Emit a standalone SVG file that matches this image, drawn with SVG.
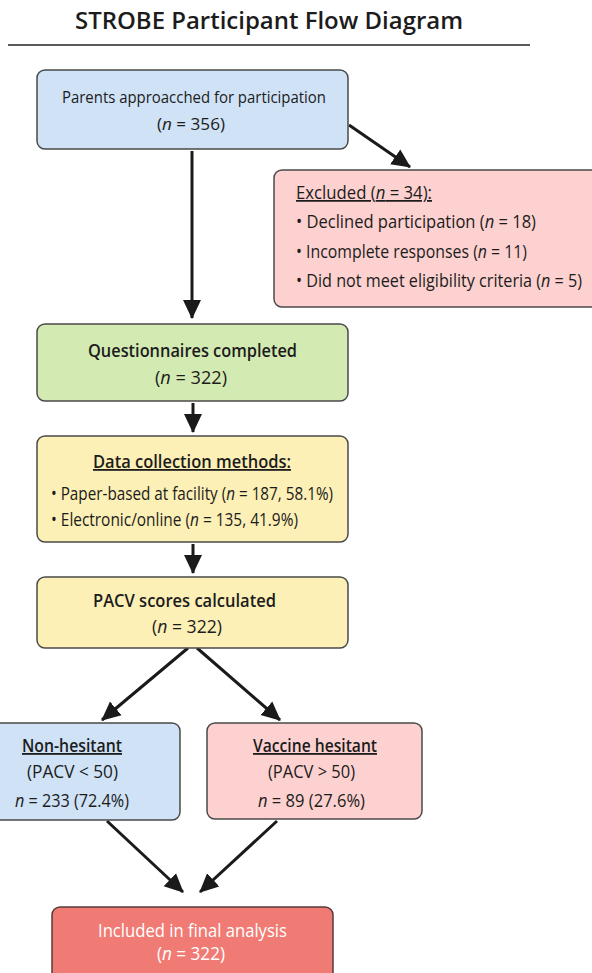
<svg xmlns="http://www.w3.org/2000/svg" width="592" height="973" viewBox="0 0 592 973">
<defs>
<style>
text{font-family:"Open Sans","Noto Sans","Liberation Sans",sans-serif;fill:#1c1c1c;}
.t{font-size:17px;font-weight:400;}
.s{font-size:18px;font-weight:600;}
.b{font-size:17.5px;font-weight:500;}
.w{fill:#ffffff;}
.u{text-decoration:underline;}
.i{font-style:italic;}
.box{stroke:#4a4a4a;stroke-width:1.5;}
.c{stroke:#1a1a1a;stroke-width:3;fill:none;}
</style>
<marker id="ah" markerUnits="userSpaceOnUse" viewBox="0 0 20 20" refX="18" refY="10" markerWidth="20" markerHeight="20" orient="auto">
<path d="M0,1 L19,10 L0,19 Z" fill="#1a1a1a"/>
</marker>
</defs>
<rect width="592" height="973" fill="#ffffff"/>
<g id="title">
<text x="269" y="29" text-anchor="middle" style="font-size:24px;font-weight:600" textLength="388" lengthAdjust="spacingAndGlyphs">STROBE Participant Flow Diagram</text>
<line x1="8" y1="45" x2="530" y2="45" stroke="#5a5a5a" stroke-width="2"/>
</g>
<g id="connectors">
<line class="c" x1="192" y1="151" x2="192" y2="318" marker-end="url(#ah)"/>
<line class="c" x1="349" y1="125" x2="410" y2="167" marker-end="url(#ah)"/>
<line class="c" x1="193" y1="403" x2="193" y2="432" marker-end="url(#ah)"/>
<line class="c" x1="193" y1="544" x2="193" y2="573" marker-end="url(#ah)"/>
<line class="c" x1="188" y1="648" x2="102" y2="720" marker-end="url(#ah)"/>
<line class="c" x1="197" y1="648" x2="280" y2="720" marker-end="url(#ah)"/>
<line class="c" x1="107" y1="821" x2="183" y2="892" marker-end="url(#ah)"/>
<line class="c" x1="277" y1="821" x2="200" y2="892" marker-end="url(#ah)"/>
</g>
<g id="parents">
<rect class="box" x="37" y="70" width="311" height="79" rx="8" fill="#cfe2f6"/>
<text class="t" x="62" y="103" textLength="264" lengthAdjust="spacingAndGlyphs">Parents approacched for participation</text>
<text class="t" x="157" y="130" textLength="68" lengthAdjust="spacingAndGlyphs">(<tspan class="i">n</tspan> = 356)</text>
</g>
<g id="excluded">
<rect class="box" x="274" y="170" width="330" height="137" rx="8" fill="#fdd1cf"/>
<text class="b u" x="296" y="199" textLength="136" lengthAdjust="spacingAndGlyphs">Excluded (<tspan class="i">n</tspan> = 34):</text>
<text class="b" x="296" y="228" textLength="240" lengthAdjust="spacingAndGlyphs">• Declined participation (<tspan class="i">n</tspan> = 18)</text>
<text class="b" x="296" y="258" textLength="231" lengthAdjust="spacingAndGlyphs">• Incomplete responses (<tspan class="i">n</tspan> = 11)</text>
<text class="b" x="296" y="287" textLength="286" lengthAdjust="spacingAndGlyphs">• Did not meet eligibility criteria (<tspan class="i">n</tspan> = 5)</text>
</g>
<g id="questionnaires">
<rect class="box" x="37" y="324" width="311" height="77" rx="8" fill="#d4eab3"/>
<text class="s" x="88" y="357" textLength="209" lengthAdjust="spacingAndGlyphs">Questionnaires completed</text>
<text class="t" x="155" y="384" style="font-size:18px" textLength="72" lengthAdjust="spacingAndGlyphs">(<tspan class="i">n</tspan> = 322)</text>
</g>
<g id="methods">
<rect class="box" x="37" y="436" width="311" height="106" rx="8" fill="#fcf0b6"/>
<text class="s u" x="93" y="468" textLength="198" lengthAdjust="spacingAndGlyphs">Data collection methods:</text>
<text class="b" x="51" y="500" textLength="282" lengthAdjust="spacingAndGlyphs">• Paper-based at facility (<tspan class="i">n</tspan> = 187, 58.1%)</text>
<text class="b" x="51" y="526" textLength="247" lengthAdjust="spacingAndGlyphs">• Electronic/online (<tspan class="i">n</tspan> = 135, 41.9%)</text>
</g>
<g id="pacv">
<rect class="box" x="37" y="577" width="311" height="71" rx="8" fill="#fcf0b6"/>
<text class="s" x="93" y="607" textLength="183" lengthAdjust="spacingAndGlyphs">PACV scores calculated</text>
<text class="t" x="152" y="633" style="font-size:18px" textLength="70" lengthAdjust="spacingAndGlyphs">(<tspan class="i">n</tspan> = 322)</text>
</g>
<g id="nonhesitant">
<rect class="box" x="-8" y="723" width="188" height="97" rx="8" fill="#cfe2f6"/>
<text class="s u" x="22" y="752" textLength="100" lengthAdjust="spacingAndGlyphs">Non-hesitant</text>
<text class="s" x="27" y="778" style="font-weight:500" textLength="91" lengthAdjust="spacingAndGlyphs">(PACV &lt; 50)</text>
<text class="s" x="15" y="807" style="font-weight:500" textLength="114" lengthAdjust="spacingAndGlyphs"><tspan class="i">n</tspan> = 233 (72.4%)</text>
</g>
<g id="hesitant">
<rect class="box" x="207" y="723" width="215" height="96" rx="8" fill="#fdd1cf"/>
<text class="s u" x="253" y="752" textLength="124" lengthAdjust="spacingAndGlyphs">Vaccine hesitant</text>
<text class="s" x="268" y="778" style="font-weight:500" textLength="87" lengthAdjust="spacingAndGlyphs">(PACV &gt; 50)</text>
<text class="s" x="258" y="807" style="font-weight:500" textLength="107" lengthAdjust="spacingAndGlyphs"><tspan class="i">n</tspan> = 89 (27.6%)</text>
</g>
<g id="included">
<rect x="52" y="907" width="281" height="80" rx="8" fill="#f07b74" stroke="#5a3a3a" stroke-width="1.5"/>
<text class="s w" x="98" y="937" style="font-weight:500" textLength="189" lengthAdjust="spacingAndGlyphs">Included in final analysis</text>
<text class="t w" x="157" y="960" style="font-size:18px" textLength="68" lengthAdjust="spacingAndGlyphs">(<tspan class="i">n</tspan> = 322)</text>
</g>
</svg>
